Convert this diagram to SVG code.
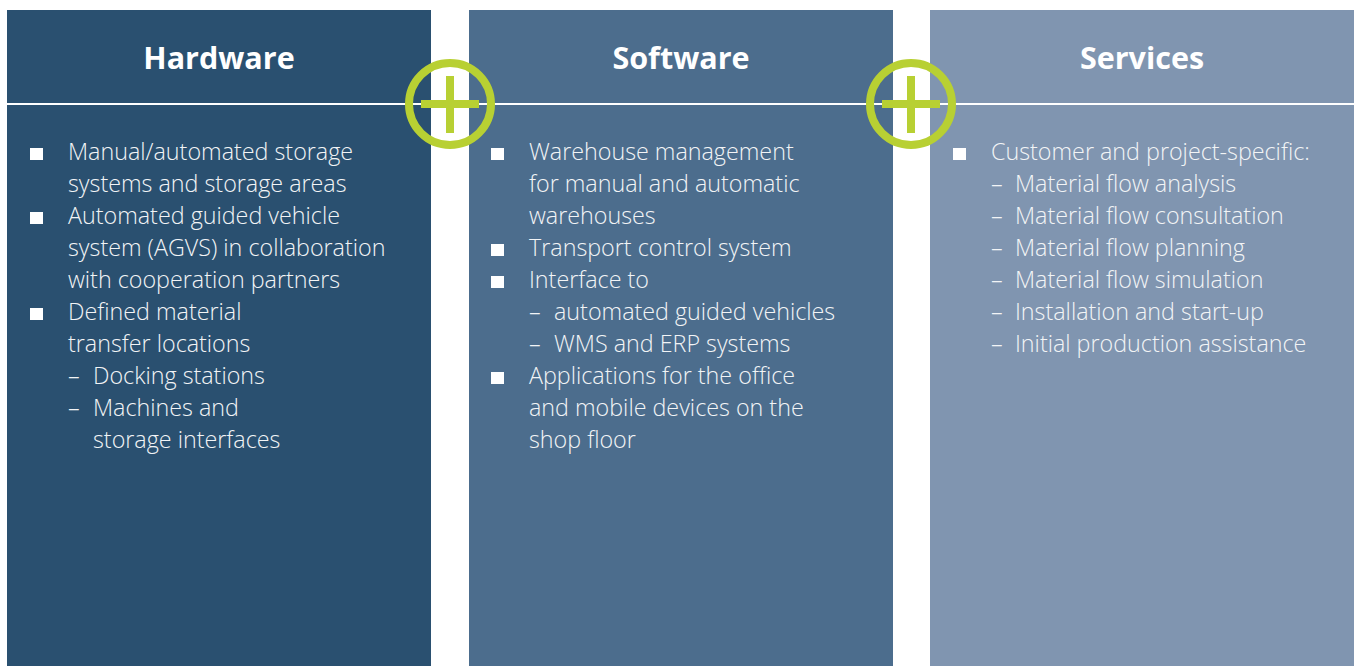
<svg xmlns="http://www.w3.org/2000/svg" width="1359" height="666" viewBox="0 0 1359 666">
<style>
.t{font-family:"Open Sans","Noto Sans",sans-serif;font-size:23.3px;font-weight:300;fill:#f2f4f6}
.h{font-family:"Open Sans","Noto Sans",sans-serif;font-size:30.5px;font-weight:bold;fill:#ffffff;text-anchor:middle}
.b{fill:#ffffff}
.sep{fill:#ffffff}
.plus{fill:none;stroke:#b8d033;stroke-width:8}
</style>
<rect width="1359" height="666" fill="#ffffff"/>
<g id="hardware">
<rect x="7" y="10" width="424" height="656" fill="#2a5070"/>
<rect class="sep" x="7" y="103" width="424" height="2"/>
<text class="h" x="219" y="69">Hardware</text>
<rect class="b" x="30" y="148" width="13" height="12"/>
<rect class="b" x="30" y="212" width="13" height="12"/>
<rect class="b" x="30" y="308" width="13" height="12"/>
<text class="t" x="68" y="160">Manual/automated storage</text>
<text class="t" x="68" y="192">systems and storage areas</text>
<text class="t" x="68" y="224">Automated guided vehicle</text>
<text class="t" x="68" y="256">system (AGVS) in collaboration</text>
<text class="t" x="68" y="288">with cooperation partners</text>
<text class="t" x="68" y="320">Defined material</text>
<text class="t" x="68" y="352">transfer locations</text>
<text class="t" x="68" y="384">–</text><text class="t" x="93" y="384">Docking stations</text>
<text class="t" x="68" y="416">–</text><text class="t" x="93" y="416">Machines and</text>
<text class="t" x="93" y="448">storage interfaces</text>
</g>
<g id="software">
<rect x="469" y="10" width="424" height="656" fill="#4c6d8d"/>
<rect class="sep" x="469" y="103" width="424" height="2"/>
<text class="h" x="681" y="69">Software</text>
<rect class="b" x="491" y="148" width="13" height="12"/>
<rect class="b" x="491" y="244" width="13" height="12"/>
<rect class="b" x="491" y="276" width="13" height="12"/>
<rect class="b" x="491" y="372" width="13" height="12"/>
<text class="t" x="529" y="160">Warehouse management</text>
<text class="t" x="529" y="192">for manual and automatic</text>
<text class="t" x="529" y="224">warehouses</text>
<text class="t" x="529" y="256">Transport control system</text>
<text class="t" x="529" y="288">Interface to</text>
<text class="t" x="529" y="320">–</text><text class="t" x="554" y="320">automated guided vehicles</text>
<text class="t" x="529" y="352">–</text><text class="t" x="554" y="352">WMS and ERP systems</text>
<text class="t" x="529" y="384">Applications for the office</text>
<text class="t" x="529" y="416">and mobile devices on the</text>
<text class="t" x="529" y="448">shop floor</text>
</g>
<g id="services">
<rect x="930" y="10" width="424" height="656" fill="#8095b0"/>
<rect class="sep" x="930" y="103" width="424" height="2"/>
<text class="h" x="1142" y="69">Services</text>
<rect class="b" x="953" y="148" width="13" height="12"/>
<text class="t" x="991" y="160">Customer and project-specific:</text>
<text class="t" x="991" y="192">–</text><text class="t" x="1015" y="192">Material flow analysis</text>
<text class="t" x="991" y="224">–</text><text class="t" x="1015" y="224">Material flow consultation</text>
<text class="t" x="991" y="256">–</text><text class="t" x="1015" y="256">Material flow planning</text>
<text class="t" x="991" y="288">–</text><text class="t" x="1015" y="288">Material flow simulation</text>
<text class="t" x="991" y="320">–</text><text class="t" x="1015" y="320">Installation and start-up</text>
<text class="t" x="991" y="352">–</text><text class="t" x="1015" y="352">Initial production assistance</text>
</g>
<g id="connectors">
<rect class="sep" x="431" y="103" width="38" height="2"/>
<rect class="sep" x="893" y="103" width="37" height="2"/>
<g id="plus1">
<circle class="plus" cx="450" cy="104" r="41"/>
<line class="plus" x1="421" y1="104" x2="479" y2="104"/>
<line class="plus" x1="450" y1="76" x2="450" y2="133"/>
</g>
<g id="plus2">
<circle class="plus" cx="911" cy="104" r="41"/>
<line class="plus" x1="882" y1="104" x2="940" y2="104"/>
<line class="plus" x1="911" y1="76" x2="911" y2="133"/>
</g>
</g>
</svg>
